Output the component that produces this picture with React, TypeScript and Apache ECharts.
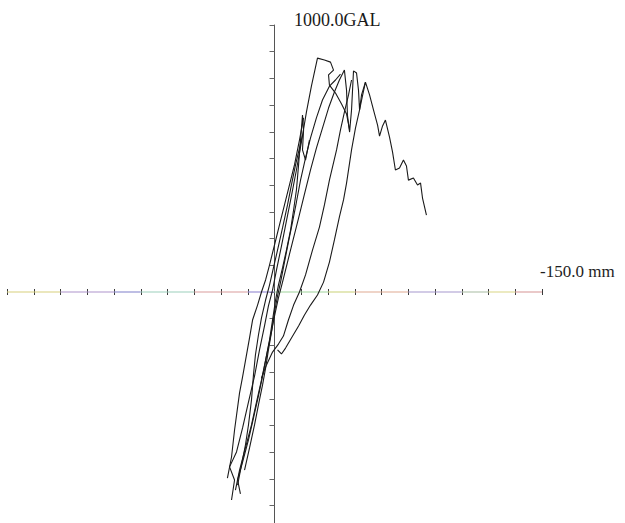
import React, { useEffect, useRef } from "react";
import * as echarts from "echarts";

// Axis ranges (displacement in mm, acceleration in gal)
const X_MIN = -150;
const X_MAX = 150;
const X_STEP = 15;
const Y_MIN = -1000;
const Y_MAX = 1000;
const Y_STEP = 100;

const yAxisTitle = "1000.0GAL";
const xAxisTitle = "-150.0 mm";

// Hysteresis traces: [displacement mm, acceleration gal]
const loop1 = [
  [-24.1, -779], [-22.4, -704], [-25.2, -655], [-21.3, -599], [-17.9, -509],
  [-14.6, -412], [-11.2, -315], [-8.4, -217], [-5.6, -127], [-3.4, -52],
  [-1.1, 7], [1.1, 82], [3.9, 172], [6.7, 266], [9.5, 360], [12.3, 457],
  [15.1, 562], [17.9, 674], [20.7, 771], [24.1, 876], [28.0, 869], [31.4, 861],
  [33.1, 831], [30.3, 813], [30.8, 775], [34.2, 745], [37.6, 704], [40.4, 667],
  [42.1, 607],
];

const loop2 = [
  [-19.1, -756], [-20.7, -704], [-17.9, -637], [-14.6, -554], [-11.8, -472],
  [-9.0, -389], [-6.7, -315], [-4.5, -240], [-2.2, -165], [0, -90], [2.2, -22],
  [4.5, 37], [7.3, 112], [10.1, 187], [13.5, 277], [16.8, 367], [20.2, 457],
  [23.5, 539], [26.9, 614], [30.3, 689], [33.6, 749], [36.4, 794], [39.2, 831],
  [40.4, 756], [40.9, 663], [42.1, 599], [43.2, 682], [44.3, 828], [46.0, 820],
  [47.1, 756], [47.7, 682], [48.8, 738], [51.0, 786],
];

const loop3 = [
  [-21.9, -742], [-19.6, -667], [-16.3, -584], [-12.9, -498], [-10.1, -412],
  [-7.3, -330], [-5.0, -255], [-2.8, -180], [-1.1, -105], [0.6, -30], [2.2, 26],
  [4.5, 90], [6.7, 157], [9.0, 232], [10.7, 307], [12.3, 382], [13.5, 476],
  [14.6, 569], [15.7, 663], [16.3, 607], [15.7, 532], [17.4, 494], [19.6, 569],
];

const loop4 = [
  [-16.8, -667], [-14.0, -584], [-11.2, -498], [-9.0, -423], [-6.7, -348],
  [-5.0, -285], [-3.4, -217], [-1.7, -150], [0, -75], [1.7, -15], [3.4, 37],
  [5.6, 112], [7.8, 187], [10.1, 262], [12.3, 337], [14.6, 419], [17.4, 502],
  [20.2, 577], [23.5, 652], [26.9, 719], [30.8, 771], [34.2, 794], [37.0, 816],
];

const loop5 = [
  [-26.4, -697], [-24.1, -618], [-22.4, -517], [-19.6, -378], [-17.9, -318],
  [-14.0, -172], [-12.3, -105], [-9.5, -49], [-7.3, 0], [-5.0, 45], [-2.8, 101],
  [0, 176], [2.8, 251], [5.6, 326], [8.4, 401], [11.2, 476], [14.0, 569],
  [16.3, 652],
];

const loop6 = [
  [1.7, -217], [3.9, -232], [6.2, -210], [9.5, -172], [13.5, -127], [16.8, -86],
  [20.2, -49], [24.1, -11], [27.5, 37], [30.8, 112], [33.6, 195], [36.4, 281],
  [38.7, 345], [40.4, 408], [43.2, 532], [45.4, 614], [47.7, 682], [49.3, 734],
  [51.0, 786], [53.3, 738], [55.5, 682], [57.8, 625], [58.9, 584], [60.6, 622],
  [62.2, 644], [64.5, 580], [66.2, 524], [67.8, 457], [70.1, 464], [72.3, 494],
  [74.0, 472], [75.1, 419], [77.9, 427], [80.2, 401], [81.9, 408], [83.0, 352],
  [85.2, 288],
];

const loop7 = [
  [-7.3, -322], [-4.5, -273], [-1.1, -225], [2.2, -195], [5.0, -165],
  [7.8, -105], [10.7, -49], [14.0, 0], [17.4, 64], [21.3, 157], [25.2, 243],
  [28.0, 326], [30.8, 419], [34.8, 532], [37.0, 607], [39.2, 674], [41.5, 738],
  [43.2, 794],
];

const loop8 = [
  [-20.7, -723], [-18.5, -648], [-16.3, -573], [-14.6, -498], [-12.9, -404],
  [-11.8, -311], [-10.7, -236], [-9.0, -161], [-7.3, -97], [-5.0, -30],
  [-2.8, 26], [-0.6, 90], [1.7, 157], [4.5, 240], [7.3, 326], [9.5, 401],
  [11.8, 476], [14.0, 539], [15.7, 588],
];

const traces = [loop1, loop2, loop3, loop4, loop5, loop6, loop7, loop8];

// Faded multi-coloured tint of the scanned horizontal axis line
const axisBandEdges = [-150, -120, -90, -75, -45, -15, 0, 30, 45, 75, 105, 120, 135, 150];
const axisBandColors = [
  "#d8cf7c", "#ad94cc", "#9393d2", "#9ccfbb", "#d99c9c", "#9c92d6",
  "#a0d49c", "#d3d98c", "#e0aa92", "#a597cd", "#b6c7b1", "#e0dc98", "#dca6a6",
];

export default function App() {
  const ref = useRef<HTMLDivElement>(null);

  useEffect(() => {
    if (!ref.current) return;
    const chart = echarts.init(ref.current, undefined, { renderer: "svg" });

    const bandSeries = axisBandColors.map((c, i) => ({
      type: "line",
      silent: true,
      showSymbol: false,
      symbol: "none",
      z: 1,
      data: [
        [axisBandEdges[i], 0],
        [axisBandEdges[i + 1], 0],
      ],
      lineStyle: { color: c, width: 1.2 },
    }));

    const traceSeries = traces.map((d, i) => ({
      type: "line",
      name: "trace" + (i + 1),
      showSymbol: false,
      symbol: "none",
      z: 3,
      data: d,
      lineStyle: { color: "#1a1a1a", width: 1.1 },
    }));

    const commonX = {
      type: "value",
      min: X_MIN,
      max: X_MAX,
      interval: X_STEP,
      axisLabel: { show: false },
      splitLine: { show: false },
    };

    chart.setOption({
      animation: false,
      backgroundColor: "#ffffff",
      grid: {
        left: 7,
        top: 25,
        width: 535,
        height: 534,
        containLabel: false,
        outerBoundsMode: "none",
      },
      xAxis: [
        {
          ...commonX,
          position: "bottom",
          axisLine: { show: false, onZero: true, onZeroAxisIndex: 0 },
          axisTick: { show: true, length: 3, lineStyle: { color: "#3a3a3a", width: 1 } },
        },
        {
          ...commonX,
          position: "top",
          axisLine: { show: false, onZero: true, onZeroAxisIndex: 0 },
          axisTick: { show: true, length: 3, lineStyle: { color: "#3a3a3a", width: 1 } },
        },
      ],
      yAxis: {
        type: "value",
        min: Y_MIN,
        max: Y_MAX,
        interval: Y_STEP,
        axisLine: { show: true, onZero: true, lineStyle: { color: "#555555", width: 1 } },
        axisTick: { show: true, length: 5, lineStyle: { color: "#666666", width: 1 } },
        axisLabel: { show: false },
        splitLine: { show: false },
      },
      graphic: [
        {
          type: "text",
          left: 294,
          top: 11,
          style: {
            text: yAxisTitle,
            font: '18px "Liberation Serif"',
            fill: "#1a1a1a",
          },
        },
        {
          type: "text",
          left: 540,
          top: 263,
          style: {
            text: xAxisTitle,
            font: '17px "Liberation Serif"',
            fill: "#1e1e1e",
          },
        },
      ],
      series: [...bandSeries, ...traceSeries],
    });

    return () => chart.dispose();
  }, []);

  return (
    <div
      ref={ref}
      style={{ position: "fixed", left: 0, top: 0, width: 625, height: 523, background: "#fff" }}
    />
  );
}
